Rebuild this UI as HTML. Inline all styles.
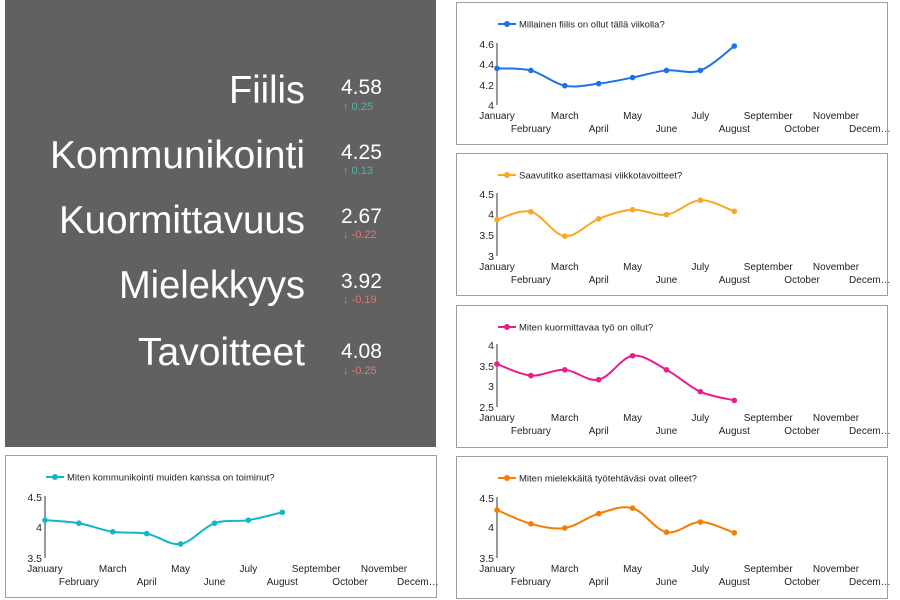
<!DOCTYPE html>
<html><head><meta charset="utf-8"><style>
html,body{margin:0;padding:0;background:#fff;width:900px;height:600px;overflow:hidden}
svg{display:block;font-family:"Liberation Sans",Arial,sans-serif}
</style></head><body>
<svg id="s" width="900" height="600" xmlns="http://www.w3.org/2000/svg">
<rect x="5" y="0" width="431" height="447" fill="#616161"/>
<g fill="#fff" font-size="39" text-anchor="end">
<text x="305" y="103" textLength="76" lengthAdjust="spacingAndGlyphs">Fiilis</text>
<text x="305" y="168" textLength="255" lengthAdjust="spacingAndGlyphs">Kommunikointi</text>
<text x="305" y="233" textLength="246" lengthAdjust="spacingAndGlyphs">Kuormittavuus</text>
<text x="305" y="298" textLength="186" lengthAdjust="spacingAndGlyphs">Mielekkyys</text>
<text x="305" y="365" textLength="167" lengthAdjust="spacingAndGlyphs">Tavoitteet</text>
</g>
<g fill="#fff" font-size="21">
<text x="341" y="94">4.58</text><text x="341" y="159">4.25</text><text x="341" y="223">2.67</text><text x="341" y="288">3.92</text><text x="341" y="358">4.08</text>
</g>
<g font-size="11">
<text x="343" y="110" fill="#4db6ac">↑ 0.25</text>
<text x="343" y="174" fill="#4db6ac">↑ 0.13</text>
<text x="343" y="238" fill="#e57373">↓ -0.22</text>
<text x="343" y="303" fill="#e57373">↓ -0.19</text>
<text x="343" y="374" fill="#e57373">↓ -0.25</text>
</g>
<g id="charts"></g>
</svg>
<script>
var months=["January","February","March","April","May","June","July","August","September","October","November","Decem…"];
var charts=[
 {px:456,py:2,ax:497,ticks:[["4.6",44],["4.4",64],["4.2",85],["4",105]],y0:4,y1:4.6,yt:105,yb:44,title:"Millainen fiilis on ollut tällä viikolla?",c:"#1a73e8",v:[4.36,4.34,4.19,4.21,4.27,4.34,4.34,4.58]},
 {px:456,py:153,ax:497,ticks:[["4.5",194],["4",214],["3.5",235],["3",256]],y0:3,y1:4.5,yt:256,yb:194,title:"Saavutitko asettamasi viikkotavoitteet?",c:"#f9a825",v:[3.88,4.07,3.48,3.9,4.12,4.0,4.35,4.08]},
 {px:456,py:305,ax:497,ticks:[["4",345],["3.5",366],["3",386],["2.5",407]],y0:2.5,y1:4,yt:407,yb:345,title:"Miten kuormittavaa työ on ollut?",c:"#e91e8c",v:[3.54,3.26,3.4,3.16,3.74,3.4,2.87,2.66]},
 {px:456,py:456,ax:497,ticks:[["4.5",498],["4",527],["3.5",558]],y0:3.5,y1:4.5,yt:558,yb:498,title:"Miten mielekkäitä työtehtäväsi ovat olleet?",c:"#f57c00",v:[4.3,4.07,4.0,4.24,4.33,3.93,4.1,3.92]},
 {px:5,py:455,ax:45,ticks:[["4.5",497],["4",527],["3.5",558]],y0:3.5,y1:4.5,yt:558,yb:497,title:"Miten kommunikointi muiden kanssa on toiminut?",c:"#12b5cb",v:[4.12,4.07,3.93,3.9,3.73,4.07,4.12,4.25]}
];
var out="";
charts.forEach(function(ch){
 var w=431,h=142;
 out+='<rect x="'+(ch.px+0.5)+'" y="'+(ch.py+0.5)+'" width="'+w+'" height="'+h+'" fill="#fff" stroke="#9e9e9e"/>';
 var dx=33.9;
 var pts=ch.v.map(function(v,i){return [ch.ax+i*dx, ch.yt-(v-ch.y0)/(ch.y1-ch.y0)*(ch.yt-ch.yb)];});
 var ly=ch.py+22;
 out+='<line x1="'+(ch.ax+1)+'" y1="'+ly+'" x2="'+(ch.ax+19)+'" y2="'+ly+'" stroke="'+ch.c+'" stroke-width="2"/><circle cx="'+(ch.ax+10)+'" cy="'+ly+'" r="3" fill="'+ch.c+'"/>';
 out+='<text x="'+(ch.ax+22)+'" y="'+(ly+3.5)+'" font-size="9.5" fill="#222">'+ch.title+'</text>';
 out+='<line x1="'+ch.ax+'" y1="'+(ch.yb-1)+'" x2="'+ch.ax+'" y2="'+ch.yt+'" stroke="#333" stroke-width="1"/>';
 ch.ticks.forEach(function(t){out+='<text x="'+(ch.ax-3)+'" y="'+(t[1]+4)+'" font-size="10.5" fill="#222" text-anchor="end">'+t[0]+'</text>';});
 months.forEach(function(m,i){var x=ch.ax+i*dx;var y=ch.yt+(i%2?27:14);out+='<text x="'+x+'" y="'+y+'" font-size="10" fill="#222" text-anchor="middle">'+m+'</text>';});
 var d="M"+pts[0][0]+","+pts[0][1];
 for(var i=0;i<pts.length-1;i++){
  var p0=pts[Math.max(i-1,0)],p1=pts[i],p2=pts[i+1],p3=pts[Math.min(i+2,pts.length-1)];
  var t=0.5/3;
  d+=" C"+(p1[0]+(p2[0]-p0[0])*t)+","+(p1[1]+(p2[1]-p0[1])*t)+" "+(p2[0]-(p3[0]-p1[0])*t)+","+(p2[1]-(p3[1]-p1[1])*t)+" "+p2[0]+","+p2[1];
 }
 out+='<path d="'+d+'" fill="none" stroke="'+ch.c+'" stroke-width="2"/>';
 pts.forEach(function(p){out+='<circle cx="'+p[0]+'" cy="'+p[1]+'" r="2.8" fill="'+ch.c+'"/>';});
});
document.getElementById("charts").innerHTML=out;
</script>
</body></html>
